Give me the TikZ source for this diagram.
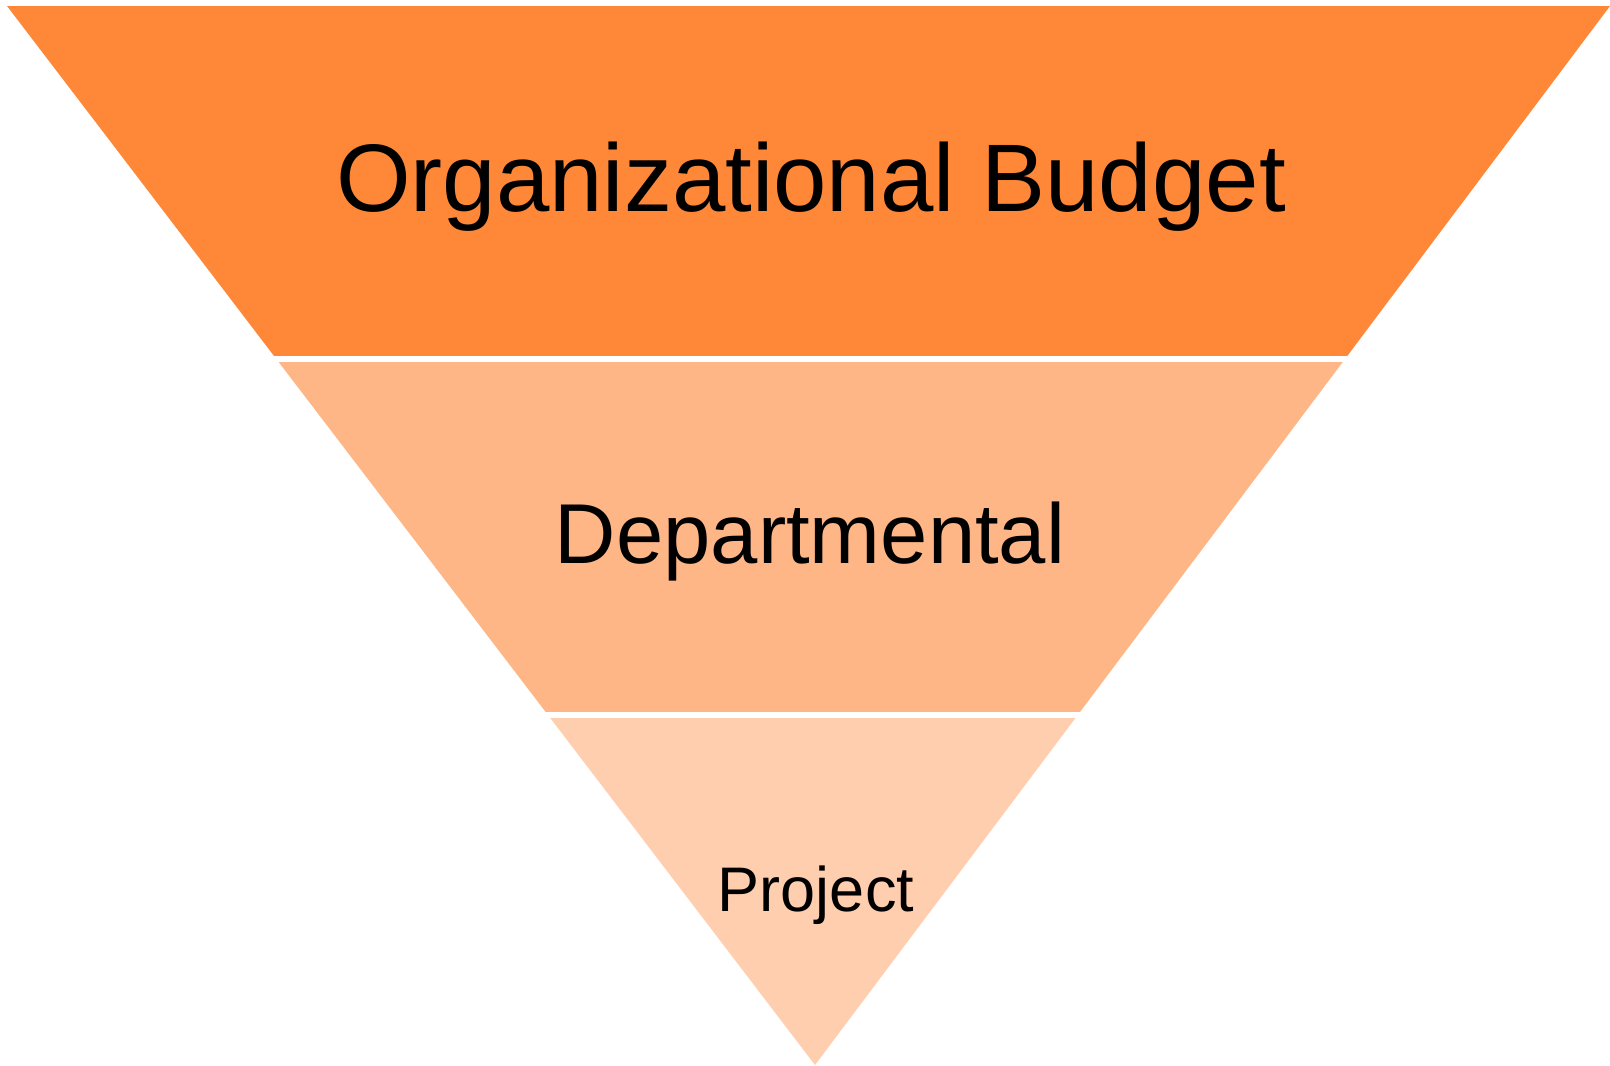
\documentclass[tikz,border=0pt]{standalone}
\usepackage{fontspec}
\setmainfont{Liberation Sans}
\definecolor{bandtop}{RGB}{255,136,56}
\definecolor{bandmid}{RGB}{255,182,135}
\definecolor{bandlow}{RGB}{255,206,174}
\begin{document}
\begin{tikzpicture}[x=1pt,y=-1pt,
  label/.style={inner sep=0pt,anchor=base,text=black}]
\useasboundingbox (0,0) rectangle (1610,1066);
% the inverted triangle: top corners and apex
\coordinate (tl) at (7,6);
\coordinate (tr) at (1610,6);
\coordinate (apex) at (815,1065);
\begin{scope}
  \clip (tl) -- (tr) -- (apex) -- cycle;
  \fill[bandtop] (0,6) rectangle (1610,356);
  \fill[bandmid] (0,362) rectangle (1610,712);
  \fill[bandlow] (0,718) rectangle (1610,1066);
\end{scope}
\node[label,font=\fontsize{96}{106}\selectfont] (org) at (811,211) {Organizational Budget};
\node[label,font=\fontsize{85}{95}\selectfont] (dept) at (810,563) {Departmental};
\node[label,font=\fontsize{63}{70}\selectfont] (proj) at (816,911) {Project};
\end{tikzpicture}
\end{document}
